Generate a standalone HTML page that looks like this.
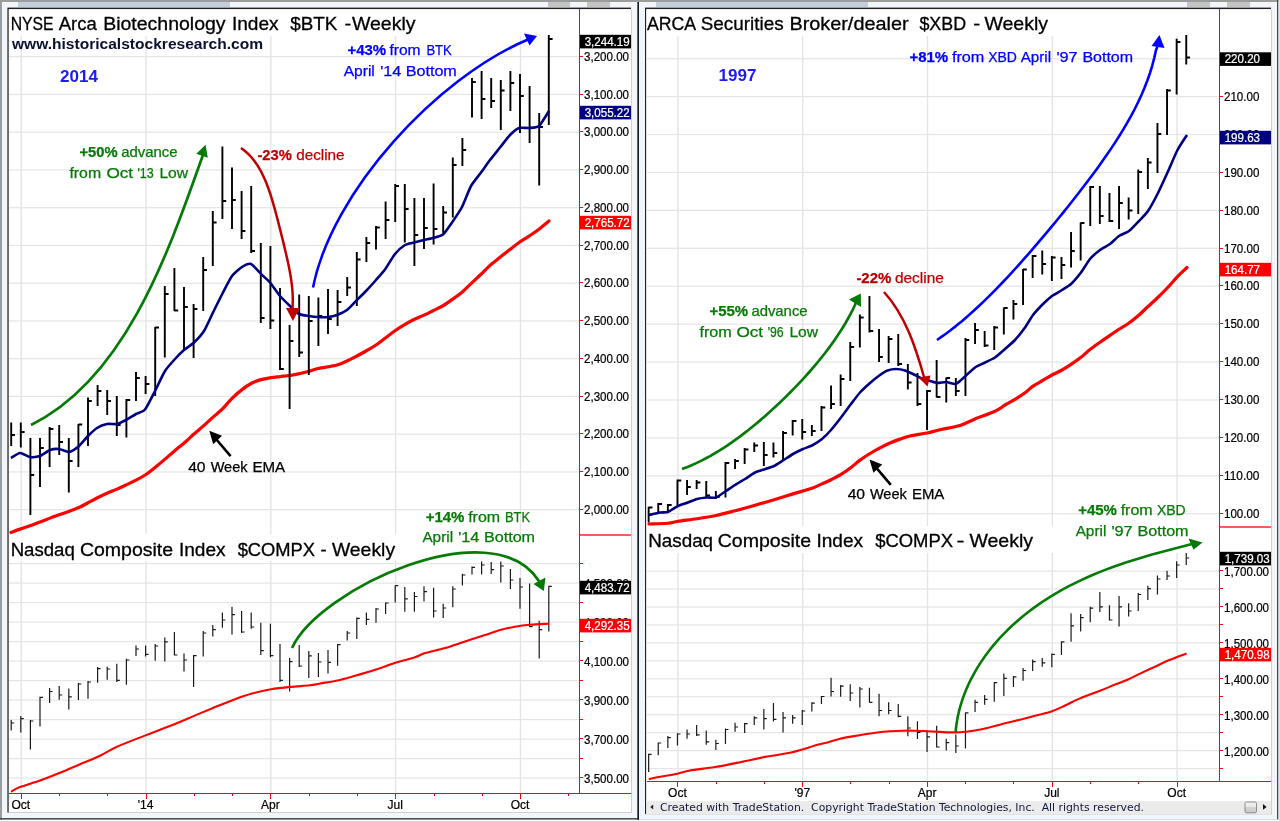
<!DOCTYPE html>
<html lang="en"><head><meta charset="utf-8"><title>BTK 2014 vs XBD 1997 - Weekly</title>
<style>html,body{margin:0;padding:0;background:#fff}svg{display:block}text{font-family:"Liberation Sans",Arial,sans-serif}.ax{font-size:12px;fill:#000;stroke:#000;stroke-width:0.22px}.axw{font-size:12px;fill:#fff;stroke:#fff;stroke-width:0.22px}.t{font-size:18.6px;fill:#000;stroke:#000;stroke-width:0.3px}.a{font-size:14.3px}.b{font-weight:bold}</style></head><body>
<svg width="1280" height="821" viewBox="0 0 1280 821">
<rect x="0" y="0" width="1280" height="821" fill="#ffffff"/>
<g>
<rect x="0" y="0" width="1280" height="2" fill="#9c9c9c"/>
<rect x="0" y="0" width="2" height="820" fill="#9c9c9c"/>
<rect x="2" y="2" width="635" height="816" fill="#f2f5fa"/>
<rect x="639" y="2" width="638" height="817" fill="#f2f5fa"/>
<rect x="0" y="818" width="639" height="1.6" fill="#505050"/>
<rect x="639" y="819" width="638" height="1" fill="#dcdcdc"/>
<rect x="1277" y="0" width="1.5" height="819.5" fill="#4a4a4a"/>
<rect x="1278.5" y="0" width="1.5" height="821" fill="#e4e4e4"/>
<rect x="18" y="2" width="212" height="5" fill="#c2cedb"/>
<rect x="548" y="2" width="22" height="5" fill="#c4c4c4"/><rect x="587" y="2" width="23" height="5" fill="#c4c4c4"/>
<rect x="656" y="2" width="212" height="5" fill="#c2cedb"/>
<rect x="1187" y="2" width="23" height="5" fill="#c4c4c4"/><rect x="1227" y="2" width="23" height="5" fill="#c4c4c4"/>
<rect x="637.4" y="2" width="1.5" height="817.6" fill="#000"/>
<rect x="7.4" y="7.6" width="623.6" height="804.9" fill="#222"/>
<rect x="8.8" y="9.2" width="623.2" height="803.8" fill="#d0d0d0"/>
<rect x="8.8" y="9.2" width="622.2" height="802.8" fill="#fff"/>
<rect x="645" y="7.6" width="626" height="806.4" fill="#222"/>
<rect x="646.3" y="9.2" width="625.7" height="805.3" fill="#d0d0d0"/>
<rect x="646.3" y="9.2" width="624.7" height="804.8" fill="#fff"/>
</g>
<g fill="#e5e5e5">
<rect x="9" y="56.1" width="570" height="1.2"/>
<rect x="9" y="93.85" width="570" height="1.2"/>
<rect x="9" y="131.6" width="570" height="1.2"/>
<rect x="9" y="169.35" width="570" height="1.2"/>
<rect x="9" y="207.1" width="570" height="1.2"/>
<rect x="9" y="244.85" width="570" height="1.2"/>
<rect x="9" y="282.6" width="570" height="1.2"/>
<rect x="9" y="320.35" width="570" height="1.2"/>
<rect x="9" y="358.1" width="570" height="1.2"/>
<rect x="9" y="395.85" width="570" height="1.2"/>
<rect x="9" y="433.6" width="570" height="1.2"/>
<rect x="9" y="471.35" width="570" height="1.2"/>
<rect x="9" y="509.1" width="570" height="1.2"/>
<rect x="9" y="563" width="570" height="1.2"/>
<rect x="9" y="582.5" width="570" height="1.2"/>
<rect x="9" y="602" width="570" height="1.2"/>
<rect x="9" y="621.5" width="570" height="1.2"/>
<rect x="9" y="641" width="570" height="1.2"/>
<rect x="9" y="660.5" width="570" height="1.2"/>
<rect x="9" y="680" width="570" height="1.2"/>
<rect x="9" y="699.5" width="570" height="1.2"/>
<rect x="9" y="719" width="570" height="1.2"/>
<rect x="9" y="738.5" width="570" height="1.2"/>
<rect x="9" y="758" width="570" height="1.2"/>
<rect x="9" y="777.5" width="570" height="1.2"/>
<rect x="20.55" y="36" width="1.4" height="498"/>
<rect x="20.55" y="561" width="1.4" height="232"/>
<rect x="145.35" y="36" width="1.4" height="498"/>
<rect x="145.35" y="561" width="1.4" height="232"/>
<rect x="270.15" y="36" width="1.4" height="498"/>
<rect x="270.15" y="561" width="1.4" height="232"/>
<rect x="394.95" y="36" width="1.4" height="498"/>
<rect x="394.95" y="561" width="1.4" height="232"/>
<rect x="519.75" y="36" width="1.4" height="498"/>
<rect x="519.75" y="561" width="1.4" height="232"/>
</g>
<g fill="#e5e5e5">
<rect x="647" y="58.1" width="572" height="1.2"/>
<rect x="647" y="96.02" width="572" height="1.2"/>
<rect x="647" y="133.94" width="572" height="1.2"/>
<rect x="647" y="171.86" width="572" height="1.2"/>
<rect x="647" y="209.78" width="572" height="1.2"/>
<rect x="647" y="247.7" width="572" height="1.2"/>
<rect x="647" y="285.62" width="572" height="1.2"/>
<rect x="647" y="323.54" width="572" height="1.2"/>
<rect x="647" y="361.46" width="572" height="1.2"/>
<rect x="647" y="399.38" width="572" height="1.2"/>
<rect x="647" y="437.3" width="572" height="1.2"/>
<rect x="647" y="475.22" width="572" height="1.2"/>
<rect x="647" y="513.14" width="572" height="1.2"/>
<rect x="647" y="570.5" width="572" height="1.2"/>
<rect x="647" y="588.45" width="572" height="1.2"/>
<rect x="647" y="606.4" width="572" height="1.2"/>
<rect x="647" y="624.35" width="572" height="1.2"/>
<rect x="647" y="642.3" width="572" height="1.2"/>
<rect x="647" y="660.25" width="572" height="1.2"/>
<rect x="647" y="678.2" width="572" height="1.2"/>
<rect x="647" y="696.15" width="572" height="1.2"/>
<rect x="647" y="714.1" width="572" height="1.2"/>
<rect x="647" y="732.05" width="572" height="1.2"/>
<rect x="647" y="750" width="572" height="1.2"/>
<rect x="647" y="767.95" width="572" height="1.2"/>
<rect x="677.2" y="36" width="1.4" height="490"/>
<rect x="677.2" y="553" width="1.4" height="228"/>
<rect x="802" y="36" width="1.4" height="490"/>
<rect x="802" y="553" width="1.4" height="228"/>
<rect x="926.8" y="36" width="1.4" height="490"/>
<rect x="926.8" y="553" width="1.4" height="228"/>
<rect x="1051.6" y="36" width="1.4" height="490"/>
<rect x="1051.6" y="553" width="1.4" height="228"/>
<rect x="1176.4" y="36" width="1.4" height="490"/>
<rect x="1176.4" y="553" width="1.4" height="228"/>
</g>
<g shape-rendering="crispEdges" fill="#ff0000">
<rect x="579" y="9" width="1" height="785"/>
<rect x="9" y="793" width="622" height="1"/>
<rect x="1219" y="9" width="1" height="773"/>
<rect x="647" y="781" width="624" height="1"/>
<rect x="580" y="56" width="3" height="1"/>
<rect x="580" y="94" width="3" height="1"/>
<rect x="580" y="131" width="3" height="1"/>
<rect x="580" y="169" width="3" height="1"/>
<rect x="580" y="207" width="3" height="1"/>
<rect x="580" y="245" width="3" height="1"/>
<rect x="580" y="282" width="3" height="1"/>
<rect x="580" y="320" width="3" height="1"/>
<rect x="580" y="358" width="3" height="1"/>
<rect x="580" y="396" width="3" height="1"/>
<rect x="580" y="433" width="3" height="1"/>
<rect x="580" y="471" width="3" height="1"/>
<rect x="580" y="509" width="3" height="1"/>
<rect x="580" y="563" width="3" height="1"/>
<rect x="580" y="582" width="3" height="1"/>
<rect x="580" y="602" width="3" height="1"/>
<rect x="580" y="621" width="3" height="1"/>
<rect x="580" y="641" width="3" height="1"/>
<rect x="580" y="660" width="3" height="1"/>
<rect x="580" y="680" width="3" height="1"/>
<rect x="580" y="699" width="3" height="1"/>
<rect x="580" y="719" width="3" height="1"/>
<rect x="580" y="738" width="3" height="1"/>
<rect x="580" y="758" width="3" height="1"/>
<rect x="580" y="777" width="3" height="1"/>
<rect x="1220" y="58" width="3" height="1"/>
<rect x="1220" y="96" width="3" height="1"/>
<rect x="1220" y="134" width="3" height="1"/>
<rect x="1220" y="172" width="3" height="1"/>
<rect x="1220" y="210" width="3" height="1"/>
<rect x="1220" y="248" width="3" height="1"/>
<rect x="1220" y="285" width="3" height="1"/>
<rect x="1220" y="323" width="3" height="1"/>
<rect x="1220" y="361" width="3" height="1"/>
<rect x="1220" y="399" width="3" height="1"/>
<rect x="1220" y="437" width="3" height="1"/>
<rect x="1220" y="475" width="3" height="1"/>
<rect x="1220" y="513" width="3" height="1"/>
<rect x="1220" y="570" width="3" height="1"/>
<rect x="1220" y="588" width="3" height="1"/>
<rect x="1220" y="606" width="3" height="1"/>
<rect x="1220" y="624" width="3" height="1"/>
<rect x="1220" y="642" width="3" height="1"/>
<rect x="1220" y="660" width="3" height="1"/>
<rect x="1220" y="678" width="3" height="1"/>
<rect x="1220" y="696" width="3" height="1"/>
<rect x="1220" y="714" width="3" height="1"/>
<rect x="1220" y="732" width="3" height="1"/>
<rect x="1220" y="750" width="3" height="1"/>
<rect x="1220" y="768" width="3" height="1"/>
<rect x="21" y="794" width="1" height="5"/>
<rect x="146" y="794" width="1" height="5"/>
<rect x="270" y="794" width="1" height="5"/>
<rect x="395" y="794" width="1" height="5"/>
<rect x="520" y="794" width="1" height="5"/>
<rect x="59" y="794" width="1" height="2"/>
<rect x="107" y="794" width="1" height="2"/>
<rect x="194" y="794" width="1" height="2"/>
<rect x="232" y="794" width="1" height="2"/>
<rect x="309" y="794" width="1" height="2"/>
<rect x="357" y="794" width="1" height="2"/>
<rect x="434" y="794" width="1" height="2"/>
<rect x="482" y="794" width="1" height="2"/>
<rect x="568" y="794" width="1" height="2"/>
<rect x="677" y="782" width="1" height="5"/>
<rect x="802" y="782" width="1" height="5"/>
<rect x="927" y="782" width="1" height="5"/>
<rect x="1052" y="782" width="1" height="5"/>
<rect x="1177" y="782" width="1" height="5"/>
<rect x="716" y="782" width="1" height="2"/>
<rect x="764" y="782" width="1" height="2"/>
<rect x="850" y="782" width="1" height="2"/>
<rect x="889" y="782" width="1" height="2"/>
<rect x="965" y="782" width="1" height="2"/>
<rect x="1013" y="782" width="1" height="2"/>
<rect x="1090" y="782" width="1" height="2"/>
<rect x="1138" y="782" width="1" height="2"/>
</g>
<g shape-rendering="crispEdges"><rect x="580" y="534" width="51" height="2" fill="#ff5a5a"/><rect x="1220" y="526" width="51" height="2" fill="#ff5a5a"/></g>
<text class="ax" x="584" y="61" textLength="44.99" lengthAdjust="spacingAndGlyphs">3,200.00</text>
<text class="ax" x="584" y="99" textLength="44.99" lengthAdjust="spacingAndGlyphs">3,100.00</text>
<text class="ax" x="584" y="136" textLength="44.99" lengthAdjust="spacingAndGlyphs">3,000.00</text>
<text class="ax" x="584" y="174" textLength="44.99" lengthAdjust="spacingAndGlyphs">2,900.00</text>
<text class="ax" x="584" y="212" textLength="44.99" lengthAdjust="spacingAndGlyphs">2,800.00</text>
<text class="ax" x="584" y="250" textLength="44.99" lengthAdjust="spacingAndGlyphs">2,700.00</text>
<text class="ax" x="584" y="287" textLength="44.99" lengthAdjust="spacingAndGlyphs">2,600.00</text>
<text class="ax" x="584" y="325" textLength="44.99" lengthAdjust="spacingAndGlyphs">2,500.00</text>
<text class="ax" x="584" y="363" textLength="44.99" lengthAdjust="spacingAndGlyphs">2,400.00</text>
<text class="ax" x="584" y="401" textLength="44.99" lengthAdjust="spacingAndGlyphs">2,300.00</text>
<text class="ax" x="584" y="438" textLength="44.99" lengthAdjust="spacingAndGlyphs">2,200.00</text>
<text class="ax" x="584" y="476" textLength="44.99" lengthAdjust="spacingAndGlyphs">2,100.00</text>
<text class="ax" x="584" y="514" textLength="44.99" lengthAdjust="spacingAndGlyphs">2,000.00</text>
<text class="ax" x="584" y="588" textLength="44.99" lengthAdjust="spacingAndGlyphs">4,500.00</text>
<text class="ax" x="584" y="627" textLength="44.99" lengthAdjust="spacingAndGlyphs">4,300.00</text>
<text class="ax" x="584" y="666" textLength="44.99" lengthAdjust="spacingAndGlyphs">4,100.00</text>
<text class="ax" x="584" y="705" textLength="44.99" lengthAdjust="spacingAndGlyphs">3,900.00</text>
<text class="ax" x="584" y="744" textLength="44.99" lengthAdjust="spacingAndGlyphs">3,700.00</text>
<text class="ax" x="584" y="783" textLength="44.99" lengthAdjust="spacingAndGlyphs">3,500.00</text>
<text class="ax" x="1224" y="63.4" textLength="35.35" lengthAdjust="spacingAndGlyphs">220.00</text>
<text class="ax" x="1224" y="101.4" textLength="35.35" lengthAdjust="spacingAndGlyphs">210.00</text>
<text class="ax" x="1224" y="139.4" textLength="35.35" lengthAdjust="spacingAndGlyphs">200.00</text>
<text class="ax" x="1224" y="177.4" textLength="35.35" lengthAdjust="spacingAndGlyphs">190.00</text>
<text class="ax" x="1224" y="215.4" textLength="35.35" lengthAdjust="spacingAndGlyphs">180.00</text>
<text class="ax" x="1224" y="253.4" textLength="35.35" lengthAdjust="spacingAndGlyphs">170.00</text>
<text class="ax" x="1224" y="290.4" textLength="35.35" lengthAdjust="spacingAndGlyphs">160.00</text>
<text class="ax" x="1224" y="328.4" textLength="35.35" lengthAdjust="spacingAndGlyphs">150.00</text>
<text class="ax" x="1224" y="366.4" textLength="35.35" lengthAdjust="spacingAndGlyphs">140.00</text>
<text class="ax" x="1224" y="404.4" textLength="35.35" lengthAdjust="spacingAndGlyphs">130.00</text>
<text class="ax" x="1224" y="442.4" textLength="35.35" lengthAdjust="spacingAndGlyphs">120.00</text>
<text class="ax" x="1224" y="480.4" textLength="35.35" lengthAdjust="spacingAndGlyphs">110.00</text>
<text class="ax" x="1224" y="518.4" textLength="35.35" lengthAdjust="spacingAndGlyphs">100.00</text>
<text class="ax" x="1224" y="575.5" textLength="44.99" lengthAdjust="spacingAndGlyphs">1,700.00</text>
<text class="ax" x="1224" y="611.5" textLength="44.99" lengthAdjust="spacingAndGlyphs">1,600.00</text>
<text class="ax" x="1224" y="647.5" textLength="44.99" lengthAdjust="spacingAndGlyphs">1,500.00</text>
<text class="ax" x="1224" y="683.5" textLength="44.99" lengthAdjust="spacingAndGlyphs">1,400.00</text>
<text class="ax" x="1224" y="719.5" textLength="44.99" lengthAdjust="spacingAndGlyphs">1,300.00</text>
<text class="ax" x="1224" y="755.5" textLength="44.99" lengthAdjust="spacingAndGlyphs">1,200.00</text>
<text class="ax" x="20.8" y="808.6" text-anchor="middle">Oct</text>
<text class="ax" x="145.6" y="808.6" text-anchor="middle">'14</text>
<text class="ax" x="270.4" y="808.6" text-anchor="middle">Apr</text>
<text class="ax" x="395.2" y="808.6" text-anchor="middle">Jul</text>
<text class="ax" x="520" y="808.6" text-anchor="middle">Oct</text>
<text class="ax" x="677.45" y="796.6" text-anchor="middle">Oct</text>
<text class="ax" x="802.25" y="796.6" text-anchor="middle">'97</text>
<text class="ax" x="927.05" y="796.6" text-anchor="middle">Apr</text>
<text class="ax" x="1051.85" y="796.6" text-anchor="middle">Jul</text>
<text class="ax" x="1176.65" y="796.6" text-anchor="middle">Oct</text>
<rect x="9" y="535" width="570" height="26" fill="#fff"/>
<rect x="647" y="527" width="572" height="26" fill="#fff"/>
<path d="M11.2 720V730.4M11.2 723h3M20.8 716V732.4M20.8 718.7h3M30.4 720V749.4M30.4 721h3M40 696.8V726.6M40 697.4h3M49.6 688V703M49.6 691.5h3M59.2 686V699.7M59.2 695h3M68.8 688.6V709.6M68.8 696.8h3M78.4 683V700M78.4 684h3M88 681V698.8M88 682h3M97.6 667V682.7M97.6 668.7h3M107.2 666.7V679.8M107.2 669h3M116.8 663.7V682M116.8 680.4h3M126.4 658.8V684.8M126.4 660h3M136 645.6V655.9M136 649h3M145.6 645.6V656.4M145.6 654.4h3M155.2 644V660.8M155.2 646h3M164.8 637.4V661.4M164.8 641.8h3M174.4 632V655.6M174.4 655h3M184 653.5V671.6M184 660h3M193.6 655V687M193.6 655.6h3M203.2 631V656.4M203.2 633h3M212.8 625V636.6M212.8 629.6h3M222.4 612.6V627.8M222.4 620h3M232 606.8V634.5M232 614.6h3M241.6 611V633M241.6 632h3M251.2 612.6V628.7M251.2 627h3M260.8 622.8V655M260.8 650.6h3M270.4 623.7V657.3M270.4 655.6h3M280 644V682M280 680.4h3M289.6 657.9V691.5M289.6 661.7h3M299.2 645V667M299.2 666h3M308.8 651V678M308.8 655.9h3M318.4 653V677M318.4 662h3M328 650V673.4M328 662.3h3M337.6 644V665.8M337.6 644.7h3M347.2 631V640.4M347.2 633h3M356.8 617.6V638.9M356.8 618.4h3M366.4 612.6V624.9M366.4 619.3h3M376 608V622.8M376 609h3M385.6 602.4V614M385.6 603h3M395.2 585.4V602.4M395.2 585.7h3M404.8 586.9V611.7M404.8 598.9h3M414.4 592V611.7M414.4 596.5h3M424 586.3V601.5M424 591.6h3M433.6 587.8V617.6M433.6 611h3M443.2 603.8V617.9M443.2 608h3M452.8 586.3V607.3M452.8 589h3M462.4 573.7V585.4M462.4 575h3M472 566.4V574.6M472 567.3h3M481.6 561.5V574.6M481.6 565h3M491.2 562V574M491.2 569.6h3M500.8 561.5V582.5M500.8 566h3M510.4 569V589M510.4 580h3M520 578V608.8M520 587h3M529.6 583.4V627M529.6 626.6h3M539.2 620.8V658.5M539.2 629.6h3M548.8 585.7V631.6M548.8 586.3h3" fill="none" stroke="#1a1a1a" stroke-width="1.2"/>
<path d="M648.65 753.8V771.9M648.65 754.3h3M658.25 742.6V755.2M658.25 743h3M667.85 736V748M667.85 737.7h3M677.45 733.3V745.6M677.45 734h3M687.05 729.5V738.8M687.05 734h3M696.65 725V736M696.65 734.8h3M706.25 730.4V744.7M706.25 741.8h3M715.85 739.7V750M715.85 743.5h3M725.45 728.6V744M725.45 729.5h3M735.05 722.8V731.8M735.05 727h3M744.65 723V733M744.65 723.7h3M754.25 716.3V725M754.25 717.8h3M763.85 709V729.5M763.85 718.7h3M773.45 703V721.6M773.45 719.3h3M783.05 712V732.4M783.05 717.8h3M792.65 714.9V723.7M792.65 717.8h3M802.25 710V725M802.25 711h3M811.85 702.3V711.4M811.85 703.2h3M821.45 695.9V704M821.45 696.5h3M831.05 677.8V696.5M831.05 691.5h3M840.65 685V696.8M840.65 686.2h3M850.25 684.2V700.9M850.25 693h3M859.85 687V707.6M859.85 689h3M869.45 687.7V702.6M869.45 702.3h3M879.05 693.8V716.3M879.05 710.5h3M888.65 702.3V714.3M888.65 710.5h3M898.25 704V717.2M898.25 716.3h3M907.85 716.3V736.2M907.85 728h3M917.45 721.3V739M917.45 732.4h3M927.05 730.4V752M927.05 736.8h3M936.65 725.7V747.6M936.65 747h3M946.25 738.8V750.5M946.25 742.6h3M955.85 734.5V752.9M955.85 746h3M965.45 712.5V748.5M965.45 712.8h3M975.05 699.7V712M975.05 702.3h3M984.65 695V704.7M984.65 699.4h3M994.25 682V701.7M994.25 682.7h3M1003.85 673.4V695.9M1003.85 678.4h3M1013.45 676V687M1013.45 676.9h3M1023.05 668V680.7M1023.05 670.5h3M1032.65 659.4V671M1032.65 661.7h3M1042.25 657.9V666.7M1042.25 662.9h3M1051.85 653.5V667.3M1051.85 654.4h3M1061.45 641.2V655M1061.45 641.8h3M1071.05 613.2V641.8M1071.05 625.8h3M1080.65 614V631.6M1080.65 617.6h3M1090.25 606.8V622.2M1090.25 608.2h3M1099.85 592V612M1099.85 606.8h3M1109.45 605.3V620.5M1109.45 620h3M1119.05 596V626.6M1119.05 606.8h3M1128.65 603.3V616.4M1128.65 611h3M1138.25 593V611M1138.25 594.5h3M1147.85 585.7V600M1147.85 588.6h3M1157.45 575.5V594.5M1157.45 579h3M1167.05 570.8V579.9M1167.05 576h3M1176.65 561.3V578M1176.65 565h3M1186.25 553V565M1186.25 558h3" fill="none" stroke="#1a1a1a" stroke-width="1.2"/>
<path d="M11 791.7C12.5 790.93 15.17 788.93 20 787.07C24.83 785.22 33.33 782.93 40 780.55C46.67 778.17 53.33 775.51 60 772.8C66.67 770.09 73.33 767.14 80 764.3C86.67 761.46 93.83 758.7 100 755.77C106.17 752.85 109.33 750.19 117 746.75C124.67 743.31 136.33 738.92 146 735.12C155.67 731.33 167 727.2 175 724C183 720.8 187.67 718.57 194 715.9C200.33 713.23 206.5 710.62 213 707.97C219.5 705.32 226.5 702.4 233 700C239.5 697.6 245.67 695.36 252 693.57C258.33 691.79 264.67 690.41 271 689.3C277.33 688.19 283.5 687.56 290 686.9C296.5 686.24 305 685.89 310 685.33C315 684.76 315 684.42 320 683.52C325 682.63 333.33 681.48 340 679.95C346.67 678.43 353.33 676.33 360 674.38C366.67 672.42 373.83 670.22 380 668.2C386.17 666.18 391.17 664.1 397 662.27C402.83 660.45 410.33 658.78 415 657.25C419.67 655.72 420 654.63 425 653.1C430 651.57 438.33 649.98 445 648.05C451.67 646.12 458.33 643.66 465 641.5C471.67 639.34 479.17 636.98 485 635.08C490.83 633.18 495 631.49 500 630.1C505 628.71 510 627.62 515 626.72C520 625.83 524.33 625.25 530 624.75C535.67 624.25 545.83 623.88 549 623.7" fill="none" stroke="#ff0000" stroke-width="2.1" stroke-linejoin="round"/>
<path d="M648.75 779.25C650.62 778.83 655.21 777.67 660 776.75C664.79 775.83 672.5 774.78 677.5 773.75C682.5 772.72 683.75 771.69 690 770.56C696.25 769.44 706.67 768.4 715 767C723.33 765.6 731.67 763.88 740 762.19C748.33 760.5 756.67 758.44 765 756.88C773.33 755.31 783.75 754.04 790 752.81C796.25 751.58 798.33 750.71 802.5 749.5C806.67 748.29 810.42 746.86 815 745.56C819.58 744.26 825.83 742.82 830 741.69C834.17 740.55 836.25 739.64 840 738.75C843.75 737.86 848.33 737.13 852.5 736.38C856.67 735.62 860.83 734.89 865 734.24C869.17 733.59 873.33 732.96 877.5 732.48C881.67 731.99 885.83 731.6 890 731.3C894.17 731 898.33 730.79 902.5 730.69C906.67 730.59 910.83 730.59 915 730.69C919.17 730.78 923.33 731.05 927.5 731.25C931.67 731.45 936.25 731.73 940 731.91C943.75 732.1 946.67 732.33 950 732.38C953.33 732.42 955.83 732.5 960 732.2C964.17 731.9 970 731.38 975 730.55C980 729.72 985 728.45 990 727.25C995 726.05 1000 724.62 1005 723.35C1010 722.08 1015 720.92 1020 719.65C1025 718.38 1029.67 717.14 1035 715.73C1040.33 714.31 1047 712.85 1052 711.15C1057 709.45 1060.33 707.67 1065 705.55C1069.67 703.42 1074.17 700.87 1080 698.4C1085.83 695.93 1094.17 693.06 1100 690.75C1105.83 688.44 1110.33 686.43 1115 684.55C1119.67 682.67 1123.83 681.27 1128 679.45C1132.17 677.63 1135.5 675.75 1140 673.62C1144.5 671.5 1150 669.01 1155 666.7C1160 664.39 1164.75 661.95 1170 659.75C1175.25 657.55 1183.75 654.54 1186.5 653.5" fill="none" stroke="#ff0000" stroke-width="2.1" stroke-linejoin="round"/>
<path d="M11 532.5C12.5 531.94 16.83 530.25 20 529.12C23.17 528 26.67 526.94 30 525.75C33.33 524.56 36.67 523.27 40 522C43.33 520.73 46.67 519.38 50 518.12C53.33 516.88 56.67 515.71 60 514.5C63.33 513.29 66.67 512.12 70 510.88C73.33 509.62 77 508.35 80 507C83 505.65 85.17 504.25 88 502.75C90.83 501.25 93.83 499.58 97 498C100.17 496.42 103.67 494.73 107 493.25C110.33 491.77 113.83 490.5 117 489.12C120.17 487.75 122.83 486.5 126 485C129.17 483.5 132.67 481.88 136 480.12C139.33 478.38 142.83 476.6 146 474.5C149.17 472.4 151.83 470.06 155 467.5C158.17 464.94 161.67 461.96 165 459.12C168.33 456.29 171.67 453.31 175 450.5C178.33 447.69 181.83 445 185 442.25C188.17 439.5 190.83 436.81 194 434C197.17 431.19 200.83 428.19 204 425.38C207.17 422.56 209.83 419.96 213 417.12C216.17 414.29 219.83 411.5 223 408.38C226.17 405.25 228.83 401.5 232 398.38C235.17 395.25 238.83 392.1 242 389.62C245.17 387.15 247.83 385.17 251 383.5C254.17 381.83 257.67 380.6 261 379.62C264.33 378.65 267.83 378.14 271 377.62C274.17 377.11 276.83 376.92 280 376.56C283.17 376.21 286.83 375.98 290 375.5C293.17 375.02 295.83 374.4 299 373.69C302.17 372.98 305.83 372.11 309 371.25C312.17 370.39 313.33 369.54 318 368.5C322.67 367.46 332.17 366.25 337 365C341.83 363.75 343.83 362.42 347 361C350.17 359.58 352.83 358.17 356 356.5C359.17 354.83 362.67 352.92 366 351C369.33 349.08 372.83 347.12 376 345C379.17 342.88 381.83 340.62 385 338.25C388.17 335.88 391.67 333.06 395 330.75C398.33 328.44 401.83 326.25 405 324.38C408.17 322.5 410.83 321.04 414 319.5C417.17 317.96 420.83 316.58 424 315.12C427.17 313.67 429.83 312.31 433 310.75C436.17 309.19 439.83 307.6 443 305.75C446.17 303.9 448.83 301.88 452 299.62C455.17 297.38 458.83 294.92 462 292.25C465.17 289.58 467.83 286.62 471 283.62C474.17 280.62 477.83 277.29 481 274.25C484.17 271.21 486.83 268.21 490 265.38C493.17 262.54 496.67 259.9 500 257.25C503.33 254.6 506.83 251.96 510 249.5C513.17 247.04 515.83 244.73 519 242.5C522.17 240.27 525.67 238.33 529 236.12C532.33 233.92 535.67 231.77 539 229.25C542.33 226.73 547.33 222.38 549 221" fill="none" stroke="#ff0000" stroke-width="3.2" stroke-linejoin="round" stroke-linecap="round"/>
<path d="M649 524C652.17 523.88 663.17 523.71 668 523.25C672.83 522.79 673.17 522 678 521.25C682.83 520.5 690.67 519.71 697 518.75C703.33 517.79 709.67 516.83 716 515.5C722.33 514.17 728.5 512.46 735 510.75C741.5 509.04 748.5 507.08 755 505.25C761.5 503.42 767.67 501.65 774 499.75C780.33 497.85 786.67 495.79 793 493.88C799.33 491.96 807.17 489.92 812 488.25C816.83 486.58 818.83 485.29 822 483.88C825.17 482.46 827.83 481.33 831 479.75C834.17 478.17 837.67 476.42 841 474.38C844.33 472.33 847.83 469.88 851 467.5C854.17 465.12 856.83 462.46 860 460.12C863.17 457.79 866.67 455.54 870 453.5C873.33 451.46 876.67 449.62 880 447.88C883.33 446.12 886.67 444.46 890 443C893.33 441.54 896.67 440.29 900 439.12C903.33 437.96 905.5 437.02 910 436C914.5 434.98 922 434.04 927 433C932 431.96 934.5 431 940 429.75C945.5 428.5 954.17 427.29 960 425.5C965.83 423.71 969.17 421.38 975 419C980.83 416.62 990 413.58 995 411.25C1000 408.92 1001.67 406.98 1005 405C1008.33 403.02 1011.67 401.42 1015 399.38C1018.33 397.33 1022 394.96 1025 392.75C1028 390.54 1030 388.21 1033 386.12C1036 384.04 1039.83 382.1 1043 380.25C1046.17 378.4 1048.83 376.71 1052 375C1055.17 373.29 1058.83 371.77 1062 370C1065.17 368.23 1067.83 366.5 1071 364.38C1074.17 362.25 1077.83 359.73 1081 357.25C1084.17 354.77 1086.83 352 1090 349.5C1093.17 347 1096.67 344.6 1100 342.25C1103.33 339.9 1106.83 337.54 1110 335.38C1113.17 333.21 1115.83 331.31 1119 329.25C1122.17 327.19 1125.67 325.38 1129 323C1132.33 320.62 1135.83 317.75 1139 315C1142.17 312.25 1145 309.29 1148 306.5C1151 303.71 1153.83 301.29 1157 298.25C1160.17 295.21 1163.67 291.77 1167 288.25C1170.33 284.73 1173.67 280.58 1177 277.12C1180.33 273.67 1185.33 269.1 1187 267.5" fill="none" stroke="#ff0000" stroke-width="3.2" stroke-linejoin="round" stroke-linecap="round"/>
<path d="M11.2 422.5V446M11.2 435h3.8M20.8 422.5V447.5M20.8 432h3.8M30.4 438V515M30.4 475h3.8M40 438V487M40 448h3.8M49.6 427V467M49.6 429h3.8M59.2 425V455M59.2 442h3.8M68.8 438V492.5M68.8 461h3.8M78.4 424V467M78.4 424.5h3.8M88 397.5V446M88 401h3.8M97.6 385V406M97.6 391h3.8M107.2 390V415M107.2 401h3.8M116.8 396V436M116.8 425h3.8M126.4 399V437.5M126.4 400h3.8M136 372V401M136 378h3.8M145.6 376V394M145.6 384h3.8M155.2 327V396M155.2 327.5h3.8M164.8 286V357.5M164.8 294h3.8M174.4 268V311M174.4 310.5h3.8M184 287V349M184 307h3.8M193.6 304V358M193.6 309h3.8M203.2 257V311M203.2 270h3.8M212.8 211V266M212.8 222.5h3.8M222.4 146.5V219M222.4 201h3.8M232 167.5V229M232 200h3.8M241.6 191V239M241.6 231h3.8M251.2 186V253M251.2 251h3.8M260.8 243V323M260.8 318h3.8M270.4 246V329M270.4 320.5h3.8M280 288V370M280 369h3.8M289.6 325V409M289.6 341h3.8M299.2 294.5V357M299.2 352.5h3.8M308.8 296V375M308.8 321h3.8M318.4 297.5V346M318.4 316h3.8M328 289V334M328 319h3.8M337.6 290V326M337.6 302h3.8M347.2 277V296M347.2 287.5h3.8M356.8 252V306M356.8 259.5h3.8M366.4 237V262M366.4 243h3.8M376 226V249.5M376 227.5h3.8M385.6 201.5V239M385.6 220h3.8M395.2 184V222M395.2 186h3.8M404.8 184V242.5M404.8 209h3.8M414.4 198V266M414.4 235h3.8M424 198V249M424 228h3.8M433.6 183.5V244.5M433.6 229h3.8M443.2 206V233.5M443.2 212.5h3.8M452.8 157.5V217.5M452.8 165h3.8M462.4 138V166M462.4 150h3.8M472 78V117.5M472 82h3.8M481.6 71V119M481.6 99h3.8M491.2 78V108M491.2 101h3.8M500.8 80V130M500.8 90.5h3.8M510.4 71V111M510.4 83h3.8M520 74V133M520 96h3.8M529.6 86V143M529.6 128h3.8M539.2 113V185.5M539.2 127h3.8M548.8 35V125M548.8 39h3.8" fill="none" stroke="#000" stroke-width="1.9"/>
<path d="M648.65 506.75V522.5M648.65 507.5h3.8M658.25 503V512.5M658.25 504h3.8M667.85 504V512.5M667.85 505h3.8M677.45 479.5V505M677.45 480.5h3.8M687.05 480V495M687.05 487h3.8M696.65 480V489M696.65 482.5h3.8M706.25 481V497M706.25 495.5h3.8M715.85 491V499M715.85 497h3.8M725.45 462V497.5M725.45 463h3.8M735.05 459V469M735.05 461h3.8M744.65 448V464M744.65 449.5h3.8M754.25 442.5V452M754.25 445.5h3.8M763.85 442V466M763.85 455h3.8M773.45 442.5V457.5M773.45 453h3.8M783.05 431V461M783.05 433h3.8M792.65 420V435.5M792.65 421h3.8M802.25 419V439.5M802.25 432h3.8M811.85 425V436M811.85 431h3.8M821.45 406V431M821.45 407.5h3.8M831.05 385.5V409M831.05 404h3.8M840.65 374.5V406M840.65 379h3.8M850.25 342V381M850.25 347h3.8M859.85 314.5V347.5M859.85 317.5h3.8M869.45 296V332.5M869.45 331h3.8M879.05 329V362M879.05 357h3.8M888.65 336V363M888.65 339h3.8M898.25 334V366M898.25 364h3.8M907.85 364V389.5M907.85 382.5h3.8M917.45 373V406M917.45 404h3.8M927.05 390V430M927.05 391h3.8M936.65 360V397.5M936.65 397h3.8M946.25 377.5V402.5M946.25 378h3.8M955.85 378V396M955.85 391h3.8M965.45 338V396M965.45 340h3.8M975.05 323V344M975.05 330h3.8M984.65 331V347M984.65 345.5h3.8M994.25 326V350M994.25 327.5h3.8M1003.85 307.5V334.5M1003.85 308h3.8M1013.45 300V319.5M1013.45 304h3.8M1023.05 269V305M1023.05 269.5h3.8M1032.65 255V278M1032.65 256h3.8M1042.25 250.5V274.5M1042.25 264h3.8M1051.85 256V281M1051.85 257.5h3.8M1061.45 257V279M1061.45 265h3.8M1071.05 232V267.5M1071.05 251h3.8M1080.65 222.5V260.5M1080.65 223h3.8M1090.25 186V226M1090.25 187h3.8M1099.85 186V224M1099.85 216h3.8M1109.45 193V222M1109.45 221h3.8M1119.05 186V229M1119.05 203h3.8M1128.65 197.5V219.5M1128.65 210.5h3.8M1138.25 169.5V214M1138.25 172h3.8M1147.85 158V189M1147.85 162.5h3.8M1157.45 123V173M1157.45 134h3.8M1167.05 89V135M1167.05 90.5h3.8M1176.65 38.75V94.5M1176.65 42h3.8M1186.25 35V64.5M1186.25 57.5h3.8" fill="none" stroke="#000" stroke-width="1.9"/>
<path d="M11 458C11.9 457.5 18.1 453.1 20 453C21.9 452.9 28 456.7 30 457C32 457.3 38 456.7 40 456C42 455.3 48.1 450.7 50 450C51.9 449.3 57.1 448.8 59 449C60.9 449.2 67.1 452.2 69 452C70.9 451.8 76.1 448.6 78 447C79.9 445.4 86.1 437.9 88 436C89.9 434.1 95.1 429.2 97 428C98.9 426.8 105 424.4 107 424C109 423.6 115.1 424.4 117 424C118.9 423.6 124.1 421 126 420C127.9 419 134.1 415.05 136 414C137.9 412.95 143.1 411.8 145 409.5C146.9 407.2 153 394.85 155 391C157 387.15 163 374.2 165 371C167 367.8 173.1 361.1 175 359C176.9 356.9 182.1 351.65 184 350C185.9 348.35 192 344.4 194 342.5C196 340.6 202.1 334 204 331C205.9 328 211.1 316.35 213 312.5C214.9 308.65 221.1 296.15 223 292.5C224.9 288.85 230.1 278.55 232 276C233.9 273.45 240.1 268.2 242 267C243.9 265.8 249.1 263.3 251 264C252.9 264.7 259.1 272.15 261 274C262.9 275.85 268.1 280.3 270 282.5C271.9 284.7 278 293.65 280 296C282 298.35 288.1 304.2 290 306C291.9 307.8 297.1 313 299 314C300.9 315 307.1 315.7 309 316C310.9 316.3 316.1 316.9 318 317C319.9 317.1 326.1 317.2 328 317C329.9 316.8 335.1 315.7 337 315C338.9 314.3 345.1 311.4 347 310C348.9 308.6 354.1 302.9 356 301C357.9 299.1 364 293.1 366 291C368 288.9 374.1 282.15 376 280C377.9 277.85 383.1 272.1 385 269.5C386.9 266.9 393 256.45 395 254C397 251.55 403.1 246.15 405 245C406.9 243.85 412.1 243 414 242.5C415.9 242 422.1 240.45 424 240C425.9 239.55 431.1 238.55 433 238C434.9 237.45 441.1 236.05 443 234.5C444.9 232.95 450.1 225.25 452 222.5C453.9 219.75 460.1 210.65 462 207C463.9 203.35 469.1 189.45 471 186C472.9 182.55 479.1 175.1 481 172.5C482.9 169.9 488.1 162.5 490 160C491.9 157.5 498 150 500 147.5C502 145 508.1 136.95 510 135C511.9 133.05 517.1 128.7 519 128C520.9 127.3 527 128.2 529 128C531 127.8 537 127.7 539 126C541 124.3 548 112.5 549 111" fill="none" stroke="#000082" stroke-width="2.6" stroke-linejoin="round"/>
<path d="M649 515C650.1 514.75 658.1 512.8 660 512.5C661.9 512.2 666.2 512.65 668 512C669.8 511.35 676 506.95 678 506C680 505.05 686.1 503.2 688 502.5C689.9 501.8 695.1 499.5 697 499C698.9 498.5 705.1 497.65 707 497.5C708.9 497.35 714.1 498.15 716 497.5C717.9 496.85 724.1 492.25 726 491C727.9 489.75 733.1 486.2 735 485C736.9 483.8 743 480.25 745 479C747 477.75 753.1 473.45 755 472.5C756.9 471.55 762.1 470.15 764 469.5C765.9 468.85 772.1 466.9 774 466C775.9 465.1 781.1 461.7 783 460.5C784.9 459.3 791 455.15 793 454C795 452.85 801.1 449.85 803 449C804.9 448.15 810.1 446.5 812 445.5C813.9 444.5 820.1 440.55 822 439C823.9 437.45 829.1 432.15 831 430C832.9 427.85 839 420.1 841 417.5C843 414.9 849.1 406.5 851 404C852.9 401.5 858.1 394.6 860 392.5C861.9 390.4 868 384.75 870 383C872 381.25 878.25 376.25 880 375C881.75 373.75 885.9 371.1 887.5 370.5C889.1 369.9 894.25 369 896 369C897.75 369 903.1 369.9 905 370.5C906.9 371.1 913.25 374.15 915 375C916.75 375.85 921 378.4 922.5 379C924 379.6 928.5 380.6 930 381C931.5 381.4 935.9 382.9 937.5 383C939.1 383.1 944.25 381.9 946 382C947.75 382.1 953.6 384.1 955 384C956.4 383.9 958 382.65 960 381C962 379.35 972.5 369.35 975 367.5C977.5 365.65 983 363.5 985 362.5C987 361.5 993 358.85 995 357.5C997 356.15 1003 350.75 1005 349C1007 347.25 1013 342.15 1015 340C1017 337.85 1023.2 330 1025 327.5C1026.8 325 1031.2 317.35 1033 315C1034.8 312.65 1041.1 305.9 1043 304C1044.9 302.1 1050.1 297.4 1052 296C1053.9 294.6 1060.1 291.2 1062 290C1063.9 288.8 1069.1 285.75 1071 284C1072.9 282.25 1079.1 275 1081 272.5C1082.9 270 1088.1 261.25 1090 259C1091.9 256.75 1098 251.5 1100 250C1102 248.5 1108.1 245.4 1110 244C1111.9 242.6 1117.1 237.3 1119 236C1120.9 234.7 1127 232.5 1129 231C1131 229.5 1137.1 223 1139 221C1140.9 219 1146.15 213.7 1148 211C1149.85 208.3 1155.55 197.85 1157.5 194C1159.45 190.15 1165.5 176.9 1167.5 172.5C1169.5 168.1 1175.55 153.75 1177.5 150C1179.45 146.25 1186.05 136.5 1187 135" fill="none" stroke="#000082" stroke-width="2.6" stroke-linejoin="round"/>
<path d="M31 425C125.84 378.21 168.77 251.12 202.5 156.25L202.76 153.6" fill="none" stroke="#067a06" stroke-width="2.7" stroke-linecap="butt" stroke-linejoin="round"/>
<path d="M205.6 144.8L196.3 153.8L207.8 157.8Z" fill="#067a06"/>
<path d="M241 148L244.07 150.27L246.91 152.7L249.54 155.26L251.98 157.95L254.24 160.76L256.34 163.67L258.29 166.67L260.1 169.77L261.79 172.94L263.38 176.18L264.86 179.49L266.25 182.85L267.57 186.25L268.81 189.7L270 193.18L271.13 196.69L272.22 200.23L273.27 203.78L274.29 207.35L275.28 210.93L276.24 214.51L277.19 218.1L278.12 221.68L279.04 225.27L279.95 228.85L280.85 232.43L281.74 236L282.62 239.56L283.49 243.11L284.35 246.66L285.19 250.2L286.02 253.73L286.83 257.26L287.61 260.79L288.37 264.31L289.09 267.84L289.77 271.37L290.4 274.92L290.98 278.47L291.49 282.05L291.93 285.64L292.3 289.26L292.56 292.92L292.73 296.61L292.78 300.36L292.71 304.15L292.5 308L292.8 310.6" fill="none" stroke="#c00000" stroke-width="2.5" stroke-linecap="butt" stroke-linejoin="round"/>
<path d="M293 321L286 308L299.5 308Z" fill="#c00000"/>
<path d="M313 287.5C331.96 190.97 437.73 77.15 528 39.5L528.8 38.8" fill="none" stroke="#0000ff" stroke-width="2.6" stroke-linecap="butt" stroke-linejoin="round"/>
<path d="M537 36L524 33.5L529.5 45.5Z" fill="#0000ff"/>
<path d="M292 648C319.12 588.55 492.35 509.54 538.5 580.5L540.36 582.8" fill="none" stroke="#067a06" stroke-width="2.7" stroke-linecap="butt" stroke-linejoin="round"/>
<path d="M543.8 591L533.5 584L545.5 577.5Z" fill="#067a06"/>
<path d="M682.01 469.01L686.84 467.19L691.61 465.22L696.31 463.12L700.94 460.9L705.51 458.55L710.03 456.09L714.49 453.53L718.89 450.87L723.24 448.12L727.55 445.28L731.81 442.37L736.02 439.37L740.19 436.31L744.31 433.18L748.4 429.99L752.44 426.75L756.45 423.45L760.42 420.1L764.35 416.71L768.24 413.27L772.09 409.79L775.91 406.26L779.69 402.71L783.43 399.11L787.13 395.48L790.79 391.82L794.41 388.12L797.99 384.39L801.52 380.62L805.01 376.82L808.45 372.99L811.84 369.12L815.19 365.21L818.48 361.26L821.71 357.27L824.88 353.24L828 349.16L831.05 345.03L834.03 340.85L836.94 336.61L839.77 332.31L842.53 327.95L845.21 323.52L847.79 319.01L850.29 314.43L852.69 309.76L855 304.99L856.16 301.3" fill="none" stroke="#067a06" stroke-width="2.7" stroke-linecap="butt" stroke-linejoin="round"/>
<path d="M860.8 293.5L849 299.5L861 307Z" fill="#067a06"/>
<path d="M884 292C905.27 315.3 915.56 347.24 924 377L925.1 378.5" fill="none" stroke="#c00000" stroke-width="2.5" stroke-linecap="butt" stroke-linejoin="round"/>
<path d="M927.5 386.5L918.5 377.5L930.5 375.5Z" fill="#c00000"/>
<path d="M937 340L943.53 335.43L949.9 330.72L956.12 325.86L962.19 320.89L968.14 315.79L973.97 310.59L979.7 305.29L985.33 299.89L990.88 294.42L996.36 288.87L1001.78 283.25L1007.13 277.56L1012.43 271.82L1017.69 266.02L1022.91 260.18L1028.09 254.29L1033.23 248.36L1038.35 242.4L1043.44 236.4L1048.5 230.36L1053.53 224.3L1058.54 218.21L1063.51 212.09L1068.45 205.94L1073.36 199.76L1078.23 193.56L1083.05 187.32L1087.83 181.05L1092.55 174.75L1097.21 168.4L1101.79 162.02L1106.3 155.6L1110.72 149.13L1115.04 142.6L1119.25 136.02L1123.34 129.37L1127.29 122.66L1131.09 115.86L1134.73 108.99L1138.2 102.02L1141.47 94.96L1144.52 87.79L1147.35 80.5L1149.94 73.09L1152.25 65.54L1154.28 57.85L1156.01 49.99L1158.3 44.6" fill="none" stroke="#0000ff" stroke-width="2.6" stroke-linecap="butt" stroke-linejoin="round"/>
<path d="M1159.5 35L1151.5 46L1164.5 48Z" fill="#0000ff"/>
<path d="M955.6 731.8L956.37 724.94L957.48 718.16L958.94 711.46L960.72 704.86L962.81 698.37L965.2 691.98L967.86 685.71L970.8 679.56L974 673.53L977.43 667.64L981.1 661.87L984.98 656.25L989.08 650.77L993.36 645.43L997.83 640.23L1002.48 635.19L1007.29 630.29L1012.25 625.55L1017.36 620.96L1022.6 616.52L1027.96 612.23L1033.45 608.1L1039.04 604.12L1044.73 600.29L1050.52 596.6L1056.4 593.07L1062.35 589.67L1068.38 586.42L1074.47 583.31L1080.63 580.32L1086.85 577.47L1093.11 574.74L1099.43 572.13L1105.78 569.64L1112.18 567.25L1118.61 564.97L1125.07 562.78L1131.56 560.67L1138.08 558.65L1144.62 556.7L1151.19 554.81L1157.77 552.98L1164.38 551.2L1171.01 549.44L1177.65 547.72L1184.32 546.01L1191 544.3L1193.3 543.82" fill="none" stroke="#067a06" stroke-width="2.6" stroke-linecap="butt" stroke-linejoin="round"/>
<path d="M1202.5 542.5L1188.5 538.5L1193.5 549.8Z" fill="#067a06"/>
<path d="M230.6 456.2L216 439" stroke="#000" stroke-width="2.6" fill="none"/><path d="M209.3 430.8L222 435.8L213.2 444.2Z" fill="#000"/>
<path d="M890.8 484.8L876.2 467.6" stroke="#000" stroke-width="2.6" fill="none"/><path d="M869.5 459.4L882.2 464.4L873.4 472.8Z" fill="#000"/>
<rect x="580" y="34.8" width="51" height="13.6" fill="#000"/>
<text class="axw" x="584.7" y="45.9" textLength="44.99" lengthAdjust="spacingAndGlyphs">3,244.19</text>
<rect x="580" y="105.8" width="51" height="13.6" fill="#000080"/>
<text class="axw" x="584.7" y="116.9" textLength="44.99" lengthAdjust="spacingAndGlyphs">3,055.22</text>
<rect x="580" y="215.8" width="51" height="13.6" fill="#ff0000"/>
<text class="axw" x="584.7" y="226.9" textLength="44.99" lengthAdjust="spacingAndGlyphs">2,765.72</text>
<rect x="580" y="580.8" width="51" height="13.6" fill="#000"/>
<text class="axw" x="584.7" y="591.9" textLength="44.99" lengthAdjust="spacingAndGlyphs">4,483.72</text>
<rect x="580" y="618.8" width="51" height="13.6" fill="#ff0000"/>
<text class="axw" x="584.7" y="629.9" textLength="44.99" lengthAdjust="spacingAndGlyphs">4,292.35</text>
<rect x="1220" y="52.3" width="51" height="13.6" fill="#000"/>
<text class="axw" x="1224.7" y="63.4" textLength="35.35" lengthAdjust="spacingAndGlyphs">220.20</text>
<rect x="1220" y="130.8" width="51" height="13.6" fill="#000080"/>
<text class="axw" x="1224.7" y="141.9" textLength="35.35" lengthAdjust="spacingAndGlyphs">199.63</text>
<rect x="1220" y="262.8" width="51" height="13.6" fill="#ff0000"/>
<text class="axw" x="1224.7" y="273.9" textLength="35.35" lengthAdjust="spacingAndGlyphs">164.77</text>
<rect x="1220" y="551.8" width="51" height="13.6" fill="#000"/>
<text class="axw" x="1224.7" y="562.9" textLength="44.99" lengthAdjust="spacingAndGlyphs">1,739.03</text>
<rect x="1220" y="647.8" width="51" height="13.6" fill="#ff0000"/>
<text class="axw" x="1224.7" y="658.9" textLength="44.99" lengthAdjust="spacingAndGlyphs">1,470.98</text>
<text class="t" y="30.3" fill="#000"><tspan x="10.65" textLength="42.95" lengthAdjust="spacingAndGlyphs">NYSE</tspan> <tspan x="58.65" textLength="38.2" lengthAdjust="spacingAndGlyphs">Arca</tspan> <tspan x="103.15" textLength="122.45" lengthAdjust="spacingAndGlyphs">Biotechnology</tspan> <tspan x="231.9" textLength="46.7" lengthAdjust="spacingAndGlyphs">Index</tspan> <tspan x="290.15" textLength="47.2" lengthAdjust="spacingAndGlyphs">$BTK</tspan> <tspan x="344.4" textLength="6.7" lengthAdjust="spacingAndGlyphs">-</tspan> <tspan x="351.9" textLength="63.7" lengthAdjust="spacingAndGlyphs">Weekly</tspan></text>
<text class="b" x="12" y="49" textLength="251" lengthAdjust="spacingAndGlyphs" fill="#0a1030" xml:space="preserve" style="font-size:14.5px">www.historicalstockresearch.com</text>
<text class="b" x="60" y="82" textLength="38" lengthAdjust="spacingAndGlyphs" fill="#1c1cf0" xml:space="preserve" style="font-size:15.8px">2014</text>
<text class="a" y="157" fill="#067a06" stroke="#067a06" stroke-width="0.25"><tspan class="b" x="79.4" textLength="38.2" lengthAdjust="spacingAndGlyphs">+50%</tspan> <tspan x="121.15" textLength="56.45" lengthAdjust="spacingAndGlyphs">advance</tspan></text>
<text class="a" y="178" fill="#067a06" stroke="#067a06" stroke-width="0.25"><tspan x="69.4" textLength="31.7" lengthAdjust="spacingAndGlyphs">from</tspan> <tspan x="106.4" textLength="26.7" lengthAdjust="spacingAndGlyphs">Oct</tspan> <tspan x="137.4" textLength="16.2" lengthAdjust="spacingAndGlyphs">'13</tspan> <tspan x="159.4" textLength="28.7" lengthAdjust="spacingAndGlyphs">Low</tspan></text>
<text class="a" y="160" fill="#c00000" stroke="#c00000" stroke-width="0.25"><tspan class="b" x="257.4" textLength="34.45" lengthAdjust="spacingAndGlyphs">-23%</tspan> <tspan x="296.15" textLength="48.45" lengthAdjust="spacingAndGlyphs">decline</tspan></text>
<text class="a" y="55" fill="#0000ff" stroke="#0000ff" stroke-width="0.25"><tspan class="b" x="347.4" textLength="38.7" lengthAdjust="spacingAndGlyphs">+43%</tspan> <tspan x="389.4" textLength="31.2" lengthAdjust="spacingAndGlyphs">from</tspan> <tspan x="426.4" textLength="25.45" lengthAdjust="spacingAndGlyphs">BTK</tspan></text>
<text class="a" y="76" fill="#0000ff" stroke="#0000ff" stroke-width="0.25"><tspan x="343.65" textLength="31.2" lengthAdjust="spacingAndGlyphs">April</tspan> <tspan x="380.15" textLength="20.95" lengthAdjust="spacingAndGlyphs">'14</tspan> <tspan x="405.65" textLength="51.2" lengthAdjust="spacingAndGlyphs">Bottom</tspan></text>
<text class="a" y="472" fill="#000" stroke="#000" stroke-width="0.25"><tspan x="188.15" textLength="17.45" lengthAdjust="spacingAndGlyphs">40</tspan> <tspan x="210.65" textLength="36.95" lengthAdjust="spacingAndGlyphs">Week</tspan> <tspan x="252.4" textLength="32.7" lengthAdjust="spacingAndGlyphs">EMA</tspan></text>
<text class="t" y="556" fill="#000"><tspan x="10.65" textLength="64.2" lengthAdjust="spacingAndGlyphs">Nasdaq</tspan> <tspan x="79.9" textLength="93.2" lengthAdjust="spacingAndGlyphs">Composite</tspan> <tspan x="178.9" textLength="46.7" lengthAdjust="spacingAndGlyphs">Index</tspan> <tspan x="237.65" textLength="77.45" lengthAdjust="spacingAndGlyphs">$COMPX</tspan> <tspan x="320.4" textLength="6.2" lengthAdjust="spacingAndGlyphs">-</tspan> <tspan x="331.9" textLength="63.2" lengthAdjust="spacingAndGlyphs">Weekly</tspan></text>
<text class="a" y="522" fill="#067a06" stroke="#067a06" stroke-width="0.25"><tspan class="b" x="425.65" textLength="38.7" lengthAdjust="spacingAndGlyphs">+14%</tspan> <tspan x="468.15" textLength="31.95" lengthAdjust="spacingAndGlyphs">from</tspan> <tspan x="504.9" textLength="25.2" lengthAdjust="spacingAndGlyphs">BTK</tspan></text>
<text class="a" y="542" fill="#067a06" stroke="#067a06" stroke-width="0.25"><tspan x="422.4" textLength="30.7" lengthAdjust="spacingAndGlyphs">April</tspan> <tspan x="458.15" textLength="21.2" lengthAdjust="spacingAndGlyphs">'14</tspan> <tspan x="483.9" textLength="51.2" lengthAdjust="spacingAndGlyphs">Bottom</tspan></text>
<text class="t" y="30.3" fill="#000"><tspan x="646.9" textLength="48.2" lengthAdjust="spacingAndGlyphs">ARCA</tspan> <tspan x="700.65" textLength="82.95" lengthAdjust="spacingAndGlyphs">Securities</tspan> <tspan x="789.4" textLength="119.2" lengthAdjust="spacingAndGlyphs">Broker/dealer</tspan> <tspan x="919.4" textLength="46.7" lengthAdjust="spacingAndGlyphs">$XBD</tspan> <tspan x="973.15" textLength="6.95" lengthAdjust="spacingAndGlyphs">-</tspan> <tspan x="984.4" textLength="63.7" lengthAdjust="spacingAndGlyphs">Weekly</tspan></text>
<text class="b" x="718.5" y="80.5" textLength="38" lengthAdjust="spacingAndGlyphs" fill="#1c1cf0" xml:space="preserve" style="font-size:15.8px">1997</text>
<text class="a" y="62" fill="#0000ff" stroke="#0000ff" stroke-width="0.25"><tspan class="b" x="909.4" textLength="38.7" lengthAdjust="spacingAndGlyphs">+81%</tspan> <tspan x="951.9" textLength="32.45" lengthAdjust="spacingAndGlyphs">from</tspan> <tspan x="988.15" textLength="28.7" lengthAdjust="spacingAndGlyphs">XBD</tspan> <tspan x="1020.65" textLength="30.45" lengthAdjust="spacingAndGlyphs">April</tspan> <tspan x="1056.4" textLength="21.2" lengthAdjust="spacingAndGlyphs">'97</tspan> <tspan x="1082.4" textLength="50.7" lengthAdjust="spacingAndGlyphs">Bottom</tspan></text>
<text class="a" y="283" fill="#c00000" stroke="#c00000" stroke-width="0.25"><tspan class="b" x="856.4" textLength="34.95" lengthAdjust="spacingAndGlyphs">-22%</tspan> <tspan x="894.9" textLength="48.95" lengthAdjust="spacingAndGlyphs">decline</tspan></text>
<text class="a" y="316" fill="#067a06" stroke="#067a06" stroke-width="0.25"><tspan class="b" x="709.4" textLength="38.7" lengthAdjust="spacingAndGlyphs">+55%</tspan> <tspan x="751.4" textLength="56.2" lengthAdjust="spacingAndGlyphs">advance</tspan></text>
<text class="a" y="337" fill="#067a06" stroke="#067a06" stroke-width="0.25"><tspan x="699.4" textLength="32.45" lengthAdjust="spacingAndGlyphs">from</tspan> <tspan x="736.4" textLength="26.7" lengthAdjust="spacingAndGlyphs">Oct</tspan> <tspan x="767.65" textLength="15.95" lengthAdjust="spacingAndGlyphs">'96</tspan> <tspan x="789.4" textLength="28.7" lengthAdjust="spacingAndGlyphs">Low</tspan></text>
<text class="a" y="498.7" fill="#000" stroke="#000" stroke-width="0.25"><tspan x="847.65" textLength="17.45" lengthAdjust="spacingAndGlyphs">40</tspan> <tspan x="869.9" textLength="36.95" lengthAdjust="spacingAndGlyphs">Week</tspan> <tspan x="911.9" textLength="32.45" lengthAdjust="spacingAndGlyphs">EMA</tspan></text>
<text class="t" y="547" fill="#000"><tspan x="648.15" textLength="64.95" lengthAdjust="spacingAndGlyphs">Nasdaq</tspan> <tspan x="717.65" textLength="93.45" lengthAdjust="spacingAndGlyphs">Composite</tspan> <tspan x="816.4" textLength="46.7" lengthAdjust="spacingAndGlyphs">Index</tspan> <tspan x="875.15" textLength="77.95" lengthAdjust="spacingAndGlyphs">$COMPX</tspan> <tspan x="956.4" textLength="7.95" lengthAdjust="spacingAndGlyphs">-</tspan> <tspan x="969.4" textLength="63.7" lengthAdjust="spacingAndGlyphs">Weekly</tspan></text>
<text class="a" y="515" fill="#067a06" stroke="#067a06" stroke-width="0.25"><tspan class="b" x="1078.15" textLength="38.7" lengthAdjust="spacingAndGlyphs">+45%</tspan> <tspan x="1120.65" textLength="31.95" lengthAdjust="spacingAndGlyphs">from</tspan> <tspan x="1156.9" textLength="28.7" lengthAdjust="spacingAndGlyphs">XBD</tspan></text>
<text class="a" y="535.5" fill="#067a06" stroke="#067a06" stroke-width="0.25"><tspan x="1075.65" textLength="30.7" lengthAdjust="spacingAndGlyphs">April</tspan> <tspan x="1111.4" textLength="21.2" lengthAdjust="spacingAndGlyphs">'97</tspan> <tspan x="1137.4" textLength="51.2" lengthAdjust="spacingAndGlyphs">Bottom</tspan></text>
<rect x="647" y="801" width="624" height="13" fill="#ebebeb" shape-rendering="crispEdges"/>
<path d="M653.2 804.4L650.2 807L653.2 809.6Z" fill="#222"/>
<text x="660" y="810.5" textLength="484" lengthAdjust="spacingAndGlyphs" fill="#10183a" style="font-family:'DejaVu Sans',Verdana,sans-serif;font-size:10.5px" xml:space="preserve">Created with TradeStation.  Copyright TradeStation Technologies, Inc.  All rights reserved.</text>
<defs><linearGradient id="tg" x1="0" y1="0" x2="0" y2="1"><stop offset="0" stop-color="#f6f6f6"/><stop offset="0.45" stop-color="#e6e6e6"/><stop offset="0.5" stop-color="#d4d4d4"/><stop offset="1" stop-color="#c8c8c8"/></linearGradient></defs>
<rect x="1245" y="802" width="11.5" height="10.8" rx="1.5" fill="url(#tg)" stroke="#8a8a8a" stroke-width="1"/>
<path d="M1263 804L1266.6 806.9L1263 809.8Z" fill="#111"/>
</svg></body></html>
